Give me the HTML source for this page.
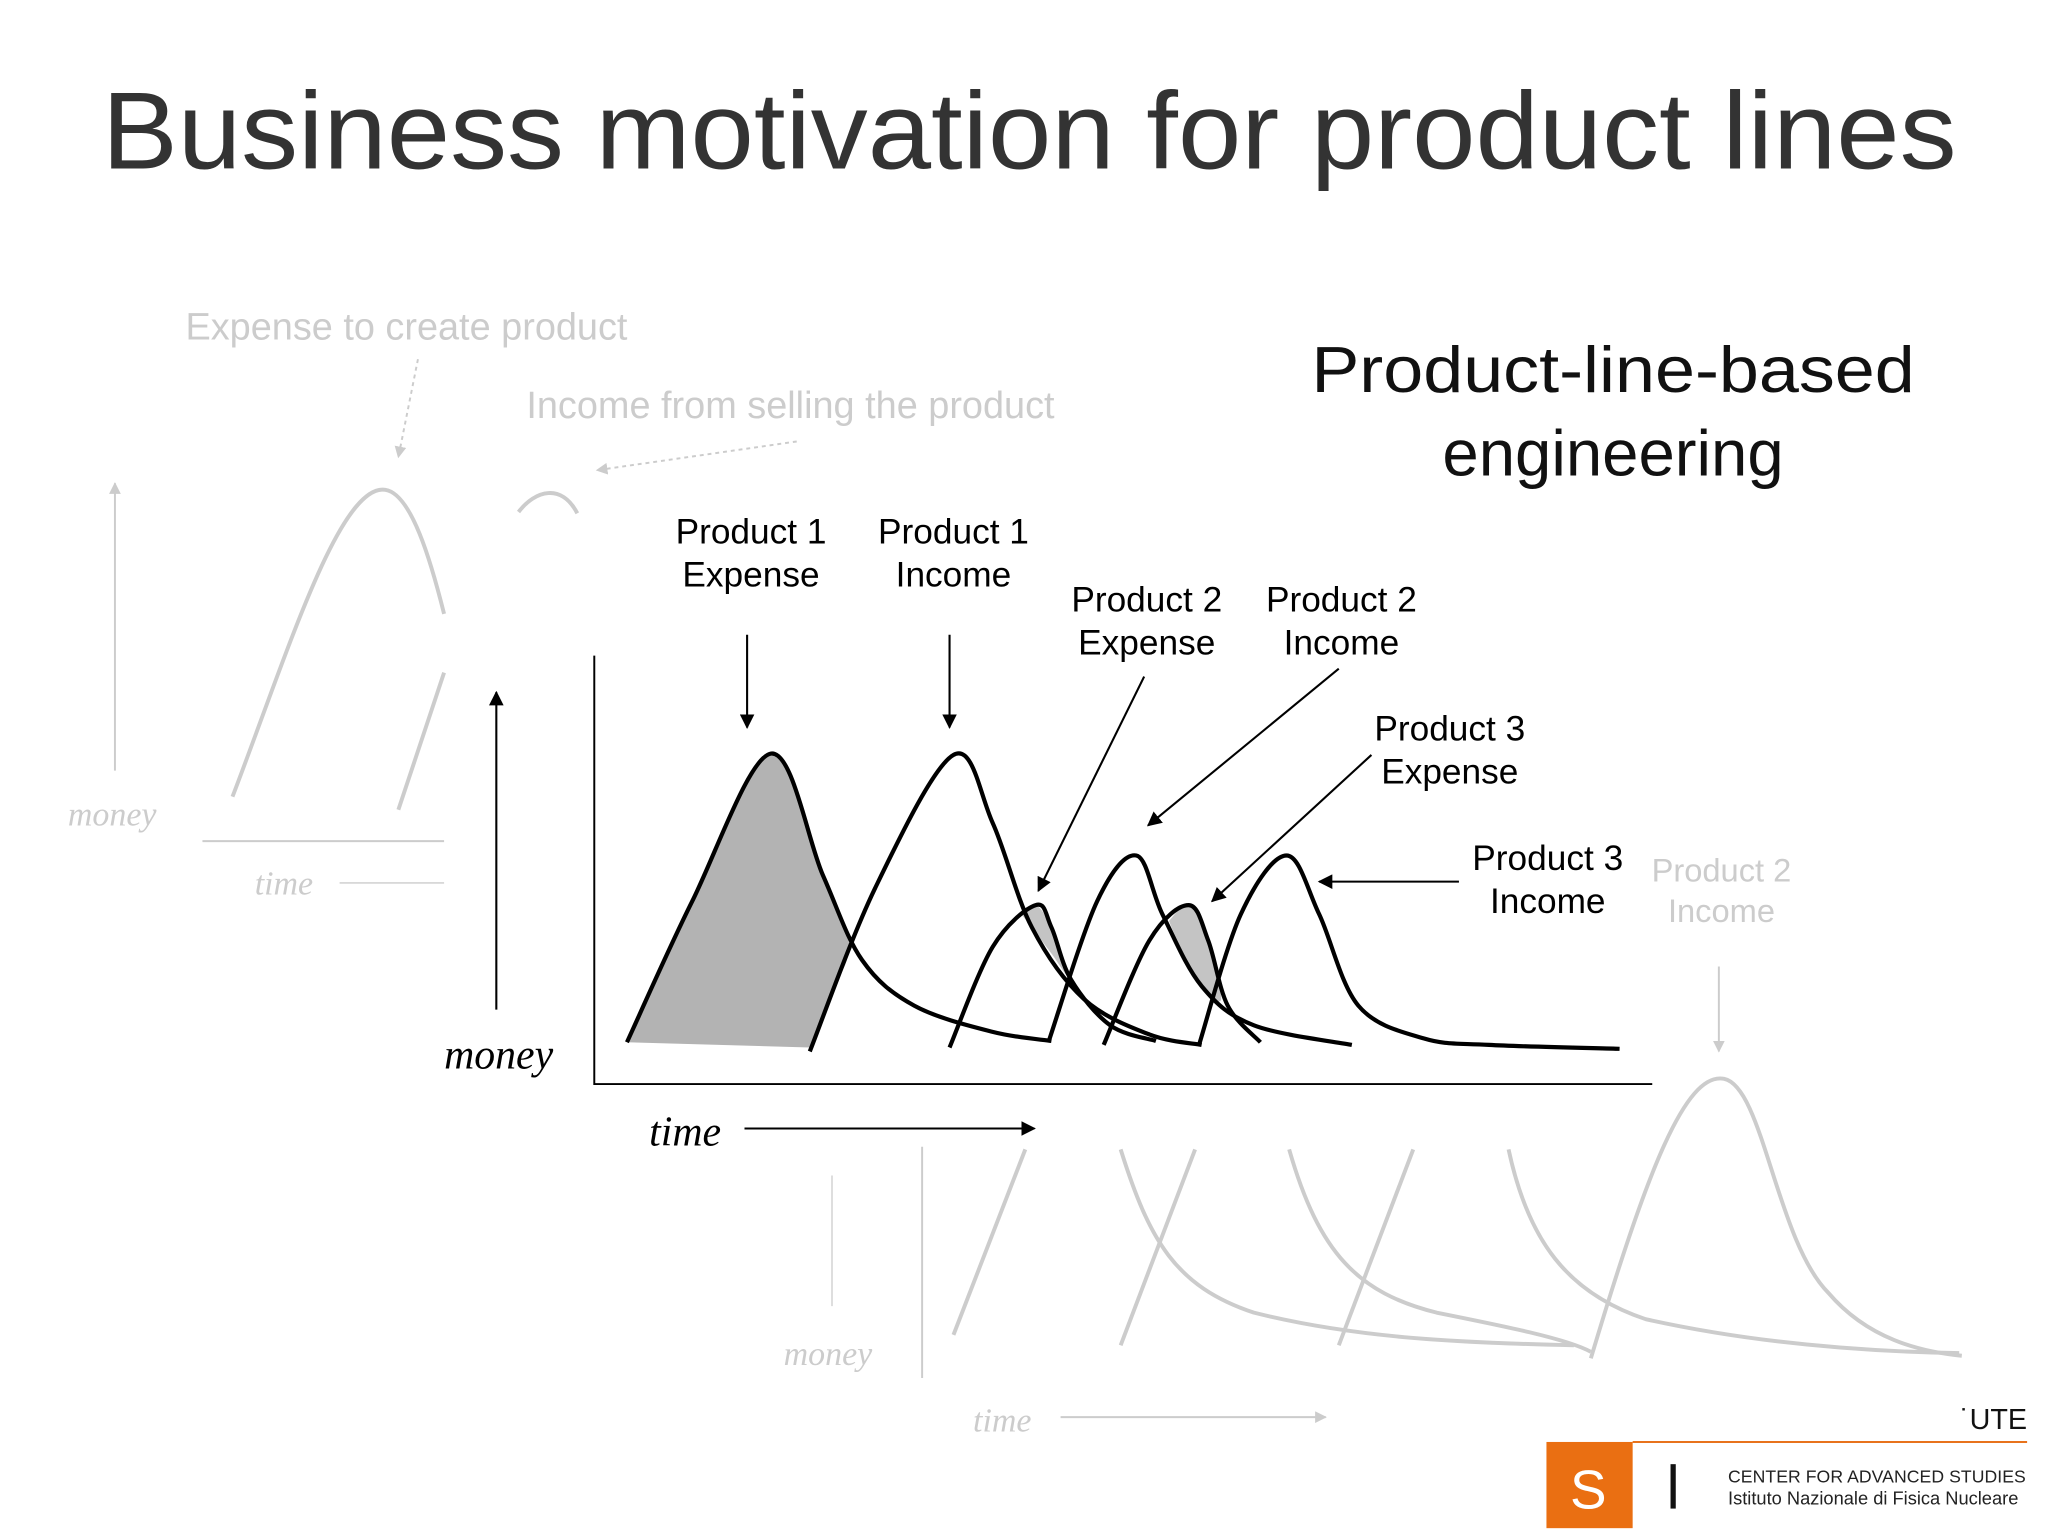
<!DOCTYPE html>
<html><head><meta charset="utf-8"><style>
html,body{margin:0;padding:0;background:#fff;}
svg{display:block;}
text{font-family:"Liberation Sans",sans-serif;}
text.serif{font-family:"Liberation Serif",serif;font-style:italic;}
</style></head><body>
<svg width="2048" height="1536" viewBox="0 0 1568 1176" xmlns="http://www.w3.org/2000/svg">
<defs>
<marker id="ah" viewBox="0 0 10 10" refX="9" refY="5" markerWidth="7" markerHeight="7" orient="auto"><path d="M0,0L10,5L0,10z" fill="#000"/></marker>
<marker id="ahg" viewBox="0 0 10 10" refX="9" refY="5" markerWidth="6" markerHeight="6" orient="auto"><path d="M0,0L10,5L0,10z" fill="#ccc"/></marker>
</defs>
<text x="78" y="129" font-size="84" fill="#333" textLength="1420" lengthAdjust="spacingAndGlyphs">Business motivation for product lines</text>
<text x="1235" y="300" font-size="50" fill="#111" text-anchor="middle" textLength="462" lengthAdjust="spacingAndGlyphs">Product-line-based</text>
<text x="1235" y="364" font-size="50" fill="#111" text-anchor="middle">engineering</text>

<g fill="none" stroke="#ccc" stroke-width="3">
<text x="142" y="260" font-size="29" fill="#ccc" stroke="none">Expense to create product</text>
<text x="403" y="320" font-size="29" fill="#ccc" stroke="none">Income from selling the product</text>
<line x1="320" y1="275" x2="305" y2="350" stroke-dasharray="3,3" stroke-width="1.5" marker-end="url(#ahg)"/>
<line x1="610" y1="338" x2="457" y2="360" stroke-dasharray="3,3" stroke-width="1.5" marker-end="url(#ahg)"/>
<line x1="88" y1="590" x2="88" y2="370" stroke-width="1.5" marker-end="url(#ahg)"/>
<path d="M178,610 C220,500 260,370 295,375 C315,378 330,430 340,470"/>
<path d="M397,392 C410,375 430,370 442,393"/>
<path d="M305,620 L340,515"/>
<line x1="155" y1="644" x2="340" y2="644" stroke-width="1.5"/>
<line x1="260" y1="676" x2="340" y2="676" stroke-width="1"/>
<text class="serif" x="52" y="632" font-size="26" fill="#ccc" stroke="none">money</text>
<text class="serif" x="195" y="685" font-size="26" fill="#ccc" stroke="none">time</text>
<text x="1318" y="675" font-size="25" fill="#ccc" stroke="none" text-anchor="middle">Product 2</text>
<text x="1318" y="706" font-size="25" fill="#ccc" stroke="none" text-anchor="middle">Income</text>
<line x1="1316" y1="740" x2="1316" y2="805" stroke-width="1.5" marker-end="url(#ahg)"/>
<path d="M1218,1040 C1260,900 1290,820 1320,826 C1350,832 1360,950 1400,990 C1430,1025 1470,1035 1502,1038"/>
<path d="M730,1022 L785,880"/><path d="M858,1030 L915,880"/><path d="M1025,1030 L1082,880"/>
<path d="M858,880 C880,950 900,985 960,1005 C1040,1025 1120,1028 1205,1030"/>
<path d="M987,880 C1010,960 1040,990 1100,1005 C1150,1015 1200,1025 1218,1035"/>
<path d="M1155,880 C1170,950 1200,990 1260,1010 C1350,1030 1440,1035 1500,1036"/>
<line x1="706" y1="878" x2="706" y2="1055" stroke-width="1.5"/>
<line x1="637" y1="900" x2="637" y2="1000" stroke-width="1"/>
<text class="serif" x="600" y="1045" font-size="26" fill="#ccc" stroke="none">money</text>
<text class="serif" x="745" y="1096" font-size="26" fill="#ccc" stroke="none">time</text>
<line x1="812" y1="1085" x2="1015" y2="1085" stroke-width="1.5" marker-end="url(#ahg)"/>
</g>

<g id="chart"></g>

<g font-size="27" fill="#000" text-anchor="middle">
<text x="575" y="416">Product 1</text><text x="575" y="449">Expense</text>
<text x="730" y="416">Product 1</text><text x="730" y="449">Income</text>
<text x="878" y="468">Product 2</text><text x="878" y="501">Expense</text>
<text x="1027" y="468">Product 2</text><text x="1027" y="501">Income</text>
<text x="1110" y="567">Product 3</text><text x="1110" y="600">Expense</text>
<text x="1185" y="666">Product 3</text><text x="1185" y="699">Income</text>
</g>
<g stroke="#000" stroke-width="1.6" marker-end="url(#ah)">
<line x1="572" y1="486" x2="572" y2="557"/>
<line x1="727" y1="486" x2="727" y2="557"/>
<line x1="876" y1="518" x2="795" y2="682"/>
<line x1="1025" y1="512" x2="879" y2="632"/>
<line x1="1050" y1="578" x2="928" y2="690"/>
<line x1="1117" y1="675" x2="1010" y2="675"/>
</g>
<line x1="380" y1="773" x2="380" y2="530" stroke="#000" stroke-width="1.6" marker-end="url(#ah)"/>
<text class="serif" x="340" y="818" font-size="32">money</text>
<text class="serif" x="497" y="877" font-size="32">time</text>
<line x1="570" y1="864" x2="792" y2="864" stroke="#000" stroke-width="1.6" marker-end="url(#ah)"/>

<g>
<text x="1552" y="1094" font-size="22" text-anchor="end" fill="#111">˙UTE</text>
<line x1="1250" y1="1104" x2="1552" y2="1104" stroke="#e8731c" stroke-width="1.5"/>
<rect x="1184" y="1104" width="66" height="66" fill="#ea6f12"/>
<text x="1216" y="1155" font-size="42" fill="#fff" text-anchor="middle">S</text>
<rect x="1279" y="1121" width="4" height="34" fill="#111"/>
<text x="1323" y="1135" font-size="13.5" fill="#222" textLength="228">CENTER FOR ADVANCED STUDIES</text>
<text x="1323" y="1152" font-size="14" fill="#222">Istituto Nazionale di Fisica Nucleare</text>
</g>
</svg>
<script>
const p1ExpT=[25,75,135,175,205,245,305,350];
const p1ExpM=[32,140,253,160,95,60,40,33];
const p1IncT=[165,215,275,305,335,375,425,465];
const p1IncM=[25,150,252,200,120,65,38,30];
const p2ExpT=[272,305,338,350,365,395,430];
const p2ExpM=[28,105,137,120,80,45,33];
const p2IncT=[348,385,415,435,465,505,580];
const p2IncM=[33,140,175,130,75,45,30];
const p3ExpT=[390,425,455,470,485,510];
const p3ExpM=[30,110,137,110,60,32];
const p3IncT=[463,495,530,555,585,635,685,785];
const p3IncM=[30,130,175,130,60,35,30,27];
const fill1T=[25,75,135,175,195,182,165];
const fill1M=[32,140,253,160,108,70,28];
const fill2T=[327,338,350,365,350,335];
const fill2M=[130,137,120,80,100,120];
const fill3T=[440,455,470,480,465,450];
const fill3M=[125,137,110,65,75,100];
const NS='http://www.w3.org/2000/svg';
const X0=455,Y0=830;
function xs(t){return X0+t;}
function ys(m){return Y0-m;}
function smooth(T,M,closed){
  const p=T.map((t,i)=>[xs(t),ys(M[i])]);
  let d='M'+p[0][0]+','+p[0][1];
  const n=p.length;
  for(let i=0;i<n-1;i++){
    const a=p[Math.max(i-1,0)],b=p[i],c=p[i+1],e=p[Math.min(i+2,n-1)];
    const c1=[b[0]+(c[0]-a[0])/6,b[1]+(c[1]-a[1])/6];
    const c2=[c[0]-(e[0]-b[0])/6,c[1]-(e[1]-b[1])/6];
    d+=' C'+c1[0]+','+c1[1]+' '+c2[0]+','+c2[1]+' '+c[0]+','+c[1];
  }
  if(closed)d+=' Z';
  return d;
}
const g=document.getElementById('chart');
function add(d,fill,stroke,sw,name){
  const el=document.createElementNS(NS,'path');
  el.setAttribute('d',d);el.setAttribute('fill',fill);el.setAttribute('stroke',stroke);el.setAttribute('stroke-width',sw);
  
  
  g.appendChild(el);
}
add(smooth(fill1T,fill1M,true),'#b3b3b3','none',0,'p1-expense-shade');
add(smooth(fill2T,fill2M,true),'#c4c4c4','none',0,'p2-expense-shade');
add(smooth(fill3T,fill3M,true),'#c4c4c4','none',0,'p3-expense-shade');
add(smooth(p1ExpT,p1ExpM),'none','#000',3.2,'p1-expense-curve');
add(smooth(p1IncT,p1IncM),'none','#000',3.2,'p1-income-curve');
add(smooth(p2ExpT,p2ExpM),'none','#000',3.2,'p2-expense-curve');
add(smooth(p2IncT,p2IncM),'none','#000',3.2,'p2-income-curve');
add(smooth(p3ExpT,p3ExpM),'none','#000',3.2,'p3-expense-curve');
add(smooth(p3IncT,p3IncM),'none','#000',3.2,'p3-income-curve');
const ax=document.createElementNS(NS,'path');
ax.setAttribute('d','M'+xs(0)+','+ys(328)+' L'+xs(0)+','+ys(0)+' L'+xs(810)+','+ys(0));
ax.setAttribute('fill','none');ax.setAttribute('stroke','#000');ax.setAttribute('stroke-width','1.5');


g.appendChild(ax);
</script>
</body></html>
